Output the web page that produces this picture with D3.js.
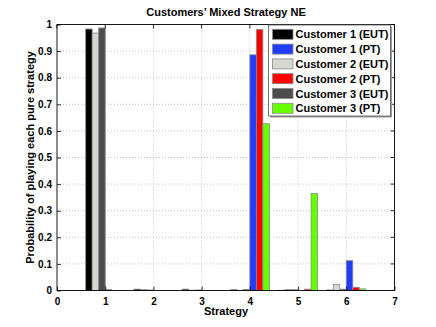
<!DOCTYPE html>
<html><head><meta charset="utf-8">
<script src="https://cdn.jsdelivr.net/npm/d3@7"></script>
<style>body{margin:0;background:#fff}svg{font-family:"Liberation Sans",Arial,sans-serif;font-weight:bold}</style>
</head><body><svg id="c" width="436" height="327"></svg>
<script>
const strategies = [1, 2, 3, 4, 5, 6];
const seriesNames = ["Customer 1 (EUT)", "Customer 1 (PT)", "Customer 2 (EUT)", "Customer 2 (PT)", "Customer 3 (EUT)", "Customer 3 (PT)"];
const seriesColors = ["#000000", "#1f3cff", "#d6d8cf", "#ff0000", "#4d4d4d", "#66ff00"];
// bar drawing order within a group
const barOrder = [0, 2, 4, 1, 3, 5];
const c1EUT = [0.983, 0.005, 0.005, 0.003, 0.001, 0.002];
const c1PT  = [0.003, 0.000, 0.000, 0.886, 0.000, 0.112];
const c2EUT = [0.968, 0.004, 0.001, 0.001, 0.004, 0.023];
const c2PT  = [0.000, 0.000, 0.000, 0.981, 0.005, 0.012];
const c3EUT = [0.987, 0.002, 0.002, 0.004, 0.003, 0.005];
const c3PT  = [0.000, 0.000, 0.000, 0.627, 0.365, 0.006];
const seriesValues = [c1EUT, c1PT, c2EUT, c2PT, c3EUT, c3PT];
const xTicks = [0, 1, 2, 3, 4, 5, 6, 7];
const yTicks = [0, 0.1, 0.2, 0.3, 0.4, 0.5, 0.6, 0.7, 0.8, 0.9, 1];

const svg = d3.select("#c");
const L = 57, R = 394.5, T = 24.5, B = 290.5;
const x = d3.scaleLinear().domain([0, 7]).range([L, R]);
const y = d3.scaleLinear().domain([0, 1]).range([B, T]);

// grid
const g = svg.append("g");
g.selectAll(".gx").data(xTicks.slice(1, -1)).join("line")
  .attr("x1", d => x(d)).attr("x2", d => x(d)).attr("y1", T).attr("y2", B)
  .attr("stroke", "#b5b5b5").attr("stroke-width", 0.8).attr("stroke-dasharray", "1,2");
g.selectAll(".gy").data(yTicks.slice(1, -1)).join("line")
  .attr("y1", d => y(d)).attr("y2", d => y(d)).attr("x1", L).attr("x2", R)
  .attr("stroke", "#b5b5b5").attr("stroke-width", 0.8).attr("stroke-dasharray", "1,2");

// bars
const groupW = 0.81, bw = groupW / 6;
barOrder.forEach((si, pos) => {
  svg.append("g").selectAll("rect").data(strategies.map((s, i) => ({s, v: seriesValues[si][i]})))
    .join("rect")
    .attr("x", d => x(d.s - groupW / 2 + pos * bw))
    .attr("width", x(bw) - x(0))
    .attr("y", d => y(d.v))
    .attr("height", d => y(0) - y(d.v))
    .attr("fill", seriesColors[si])
    .attr("stroke", "#8a8a8a").attr("stroke-width", 0.8);
});

// axes
const ax = svg.append("g").attr("transform", `translate(0,${B})`)
  .call(d3.axisBottom(x).tickValues(xTicks).tickSize(-4).tickPadding(7).tickFormat(d3.format("d")));
const ay = svg.append("g").attr("transform", `translate(${L},0)`)
  .call(d3.axisLeft(y).tickValues(yTicks).tickSize(-4).tickPadding(5).tickFormat(d => d === 0 || d === 1 ? String(d) : d3.format(".1f")(d)));
[ax, ay].forEach(a => {
  a.select(".domain").remove();
  a.selectAll("line").attr("stroke", "#000").attr("stroke-width", 0.8);
  a.selectAll("text").attr("font-size", 10).attr("font-weight", "bold").attr("fill", "#000")
    .attr("font-family", "Liberation Sans, Arial, sans-serif");
});
// top/right ticks
svg.append("g").selectAll("line").data(xTicks).join("line")
  .attr("x1", d => x(d)).attr("x2", d => x(d)).attr("y1", T).attr("y2", T + 4).attr("stroke", "#000").attr("stroke-width", 0.8);
svg.append("g").selectAll("line").data(yTicks).join("line")
  .attr("y1", d => y(d)).attr("y2", d => y(d)).attr("x1", R).attr("x2", R - 4).attr("stroke", "#000").attr("stroke-width", 0.8);
svg.append("rect").attr("x", L).attr("y", T).attr("width", R - L).attr("height", B - T)
  .attr("fill", "none").attr("stroke", "#000").attr("stroke-width", 0.9);

// legend
const lg = svg.append("g");
const lx = 268.5, ly = 25, lw = 122, lh = 91;
lg.append("rect").attr("x", lx + 1.5).attr("y", ly + 1.5).attr("width", lw).attr("height", lh).attr("fill", "#9a9a9a");
lg.append("rect").attr("x", lx).attr("y", ly).attr("width", lw).attr("height", lh).attr("fill", "#fff").attr("stroke", "#555").attr("stroke-width", 0.8);
seriesNames.forEach((n, i) => {
  const cy = 34.3 + i * 14.8;
  lg.append("rect").attr("x", 272.5).attr("y", cy - 5).attr("width", 20.5).attr("height", 10)
    .attr("fill", seriesColors[i]).attr("stroke", "#8a8a8a").attr("stroke-width", 0.8);
  lg.append("text").attr("x", 295.5).attr("y", cy + 4).attr("font-size", 11).attr("fill", "#000").text(n);
});

// titles
svg.append("text").attr("x", 226).attr("y", 16).attr("text-anchor", "middle").attr("font-size", 11).text("Customers\u2019 Mixed Strategy NE");
svg.append("text").attr("x", 226).attr("y", 315).attr("text-anchor", "middle").attr("font-size", 11).text("Strategy");
svg.append("text").attr("transform", "translate(34,157.5) rotate(-90)").attr("text-anchor", "middle").attr("font-size", 11).text("Probability of playing each pure strategy");
</script></body></html>
